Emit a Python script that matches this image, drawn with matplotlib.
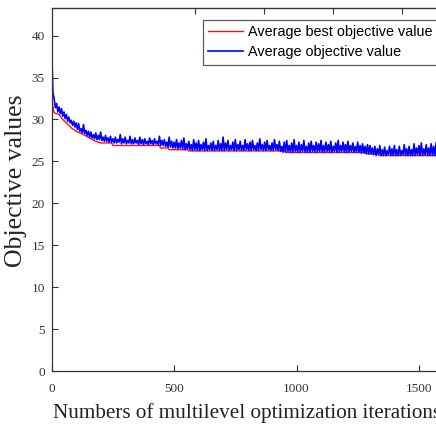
import matplotlib
matplotlib.use("Agg")
import matplotlib.pyplot as plt
import numpy as np

plt.rcParams['font.family'] = ['Liberation Serif', 'DejaVu Serif']

# average best objective value (step-like curve), read at breakpoints
best_iter = [0, 5, 10, 30, 45, 60, 80, 100, 130, 160, 180, 200, 245, 250,
             440, 445, 475, 480, 555, 560, 955, 960, 1280, 1290, 1335, 1340, 1570]
best_val = [32.7, 31.5, 30.8, 30.6, 30.0, 29.6, 29.0, 28.6, 28.2, 27.7, 27.4, 27.2, 27.2, 26.9,
            26.9, 26.6, 26.6, 26.4, 26.4, 26.25, 26.25, 26.05, 26.05, 25.9, 25.9, 25.7, 25.7]

# average objective value, every 5 iterations from 0 to 1570
avg_val = [
    38.1, 33.2, 32.5, 31.4, 31.9, 30.9, 31.5, 30.7, 31.3, 30.4, 30.9, 30.1, 30.6, 29.8, 30.3, 29.6, 29.9, 29.3, 29.8, 29.1,
    29.6, 28.8, 29.5, 28.6, 28.9, 28.4, 29.4, 28.3, 28.7, 28.1, 28.6, 27.9, 28.5, 27.8, 28.2, 27.7, 28.4, 27.6, 28.1, 27.6,
    28.5, 27.5, 27.9, 27.4, 28.1, 27.4, 27.8, 27.3, 28.0, 27.3, 27.7, 27.2, 27.9, 27.2, 27.6, 27.3, 28.2, 27.1, 27.7, 27.2,
    27.9, 27.1, 27.5, 27.2, 28.0, 27.1, 27.6, 27.1, 27.8, 27.2, 27.5, 27.0, 27.9, 27.1, 27.6, 27.0, 27.7, 27.1, 27.4, 27.0,
    27.8, 27.1, 27.5, 27.0, 27.7, 27.1, 27.4, 27.0, 28.0, 26.9, 27.5, 26.9, 27.6, 26.8, 27.3, 26.7, 27.9, 26.7, 27.4, 26.6,
    27.3, 26.6, 27.6, 26.5, 27.2, 26.6, 27.5, 26.5, 27.8, 26.4, 27.1, 26.5, 27.4, 26.4, 27.0, 26.3, 27.6, 26.4, 27.2, 26.3,
    27.5, 26.3, 27.0, 26.4, 27.3, 26.3, 27.7, 26.3, 26.9, 26.4, 27.2, 26.3, 27.4, 26.3, 26.9, 26.4, 27.5, 26.3, 27.1, 26.3,
    27.9, 26.3, 27.2, 26.4, 27.5, 26.3, 26.9, 26.4, 27.3, 26.3, 27.6, 26.3, 27.0, 26.4, 27.4, 26.3, 26.9, 26.3, 27.6, 26.4,
    27.1, 26.3, 27.3, 26.3, 27.5, 26.4, 26.9, 26.3, 27.2, 26.3, 27.7, 26.4, 27.0, 26.3, 27.3, 26.3, 27.5, 26.4, 26.9, 26.3,
    27.2, 26.3, 27.6, 26.4, 27.0, 26.3, 27.4, 26.2, 26.8, 26.1, 27.3, 26.1, 27.5, 26.2, 26.9, 26.1, 27.2, 26.1, 27.6, 26.2,
    26.9, 26.1, 27.3, 26.1, 27.0, 26.2, 27.5, 26.1, 26.8, 26.1, 27.2, 26.1, 27.4, 26.2, 26.9, 26.1, 27.3, 26.1, 27.1, 26.2,
    27.5, 26.1, 26.9, 26.1, 27.3, 26.2, 27.0, 26.1, 27.4, 26.1, 26.8, 26.2, 27.2, 26.1, 27.5, 26.1, 26.9, 26.2, 27.3, 26.1,
    27.0, 26.1, 27.4, 26.1, 26.9, 26.2, 27.2, 26.1, 26.8, 26.1, 27.3, 26.1, 26.9, 26.0, 27.1, 26.0, 26.8, 25.9, 27.0, 25.9,
    26.9, 25.9, 26.6, 25.8, 26.8, 25.7, 26.5, 25.8, 26.9, 25.7, 26.4, 25.7, 26.7, 25.7, 26.3, 25.8, 26.8, 25.7, 26.5, 25.7,
    26.9, 25.7, 26.4, 25.7, 26.8, 25.7, 26.3, 25.8, 27.0, 25.7, 26.5, 25.7, 26.8, 25.7, 26.4, 25.7, 27.1, 25.7, 26.6, 25.8,
    26.9, 25.7, 27.2, 25.7, 26.5, 25.8, 27.0, 25.7, 26.6, 25.7, 27.1, 25.7, 26.8, 25.7, 27.2,
]
avg_iter = np.arange(0, 5 * len(avg_val), 5)

xticks = [0, 500, 1000, 1500]
yticks = [0, 5, 10, 15, 20, 25, 30, 35, 40]

fig = plt.figure(figsize=(4.36, 4.28), dpi=100)
ax = fig.add_axes([51.7 / 436, 57 / 428, 391.7 / 436, 363 / 428])

ax.plot(best_iter, best_val, color='#ff1010', lw=1.0, label='Average best objective value')
ax.plot(avg_iter, avg_val, color='#0000ff', lw=1.2, label='Average objective value')

ax.set_xlim(0, 1600)
ax.set_ylim(0, 43.3)
ax.set_xticks(xticks)
ax.set_yticks(yticks)

for s in ax.spines.values():
    s.set_color('#333333')
    s.set_linewidth(0.9)
ax.spines['right'].set_visible(False)

ax.tick_params(direction='in', length=4, width=0.8, color='#333333',
               labelcolor='#333333', labelsize=9.5)
ax.tick_params(axis='x', pad=8.5)
ax.tick_params(axis='y', pad=5)

top = ax.secondary_xaxis('top')
top.set_xticks([587, 868, 1149, 1430])
top.tick_params(direction='in', length=4, width=0.8, color='#333333', labeltop=False)
top.spines['top'].set_color('#333333')

ax.set_xlabel('Numbers of multilevel optimization iterations',
              fontsize=15.2, color='#222222', labelpad=6)
ax.set_ylabel('Objective values', fontsize=18.5, color='#222222')
ax.yaxis.set_label_coords(-0.062, 0.523)

leg = ax.legend(loc='upper left', bbox_to_anchor=(203 / 436, 1 - 20 / 428),
                bbox_transform=fig.transFigure, borderaxespad=0, fancybox=False,
                prop={'family': 'Liberation Sans', 'size': 10.4}, handlelength=2.4,
                handletextpad=0.35, borderpad=0.38, labelspacing=0.4)
leg.get_frame().set_edgecolor('#333333')
leg.get_frame().set_linewidth(0.9)

fig.savefig('out.png', dpi=100)
